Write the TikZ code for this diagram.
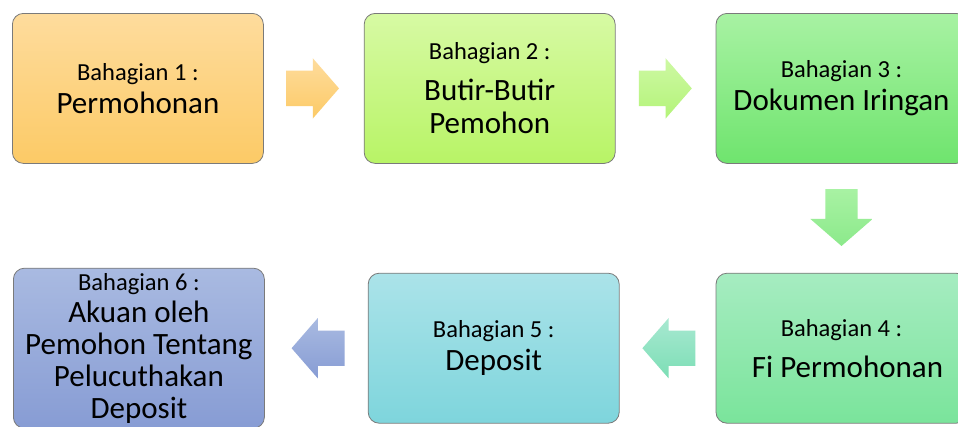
\documentclass[tikz,border=0pt]{standalone}
\usepackage{fontspec}
\setmainfont{Carlito}
\usetikzlibrary{positioning,shapes.arrows,calc}
\definecolor{boxEdge}{HTML}{7A7A7A}
\definecolor{orangeTop}{HTML}{FEDC9D}
\definecolor{orangeBot}{HTML}{FCCA66}
\definecolor{limeTop}{HTML}{D7FAA4}
\definecolor{limeBot}{HTML}{B8F466}
\definecolor{greenTop}{HTML}{A8F2A3}
\definecolor{greenBot}{HTML}{6FE46E}
\definecolor{mintTop}{HTML}{A6ECC1}
\definecolor{mintBot}{HTML}{7AE49B}
\definecolor{tealTop}{HTML}{ABE3E9}
\definecolor{tealBot}{HTML}{7ED5DC}
\definecolor{blueTop}{HTML}{A9BAE1}
\definecolor{blueBot}{HTML}{879CD4}
\newcommand{\parthead}[1]{{\fontsize{24.5}{28}\selectfont #1}}

\begin{document}
\begin{tikzpicture}[x=1pt,y=1pt,
  node distance=100pt,
  partbox/.style={draw=boxEdge,line width=0.8pt,rounded corners=11pt,minimum width=251pt,minimum height=150pt,
    inner sep=0pt,align=center,font=\fontsize{31}{33}\selectfont},
  blockarrow/.style={single arrow,inner xsep=0pt,inner ysep=17.5pt,minimum height=53pt,
    single arrow head extend=12.5pt,single arrow tip angle=98,draw=none,anchor=tail}]
  \fill[white] (0,0) rectangle (958,-426);
  \useasboundingbox (0,0) rectangle (958,-426);

  % top row
  \node[partbox,anchor=north west,top color=orangeTop,bottom color=orangeBot] (part1) at (12,-13)
    {\parthead{Bahagian 1 :}\\Permohonan};
  \node[partbox,right=of part1,top color=limeTop,bottom color=limeBot] (part2)
    {\parthead{Bahagian 2 :}\\[8pt]Butir-Butir\\Pemohon};
  \node[partbox,right=of part2,top color=greenTop,bottom color=greenBot] (part3)
    {\parthead{Bahagian 3 :}\\Dokumen Iringan};

  % bottom row
  \node[partbox,below=109pt of part3,top color=mintTop,bottom color=mintBot] (part4)
    {\parthead{Bahagian 4 :}\\[8pt]\hspace*{12pt}Fi Permohonan};
  \node[partbox,left=96pt of part4,top color=tealTop,bottom color=tealBot] (part5)
    {\parthead{Bahagian 5 :}\\Deposit};
  \node[partbox,left=103pt of part5,minimum height=160pt,top color=blueTop,bottom color=blueBot,
    font=\fontsize{31}{32}\selectfont] (part6)
    {\parthead{Bahagian 6 :}\\Akuan oleh\\Pemohon Tentang\\Pelucuthakan\\Deposit};

  % block arrows between the parts
  \node[blockarrow,top color=orangeTop,bottom color=orangeBot] (go12) at ([xshift=22pt]part1.east) {};
  \node[blockarrow,top color=limeTop!80!greenTop,bottom color=limeBot!70!greenTop] (go23) at ([xshift=23pt]part2.east) {};
  \node[blockarrow,shape border rotate=270,inner xsep=16pt,inner ysep=0pt,minimum height=57pt,single arrow head extend=15pt,
    top color=greenTop,bottom color=greenBot!80!white] (go34) at ([yshift=-25pt]part3.south) {};
  \node[blockarrow,shape border rotate=180,top color=mintTop!60!tealTop,bottom color=mintBot!60!tealBot] (go45) at ([xshift=-20pt]part4.west) {};
  \node[blockarrow,shape border rotate=180,top color=blueTop,bottom color=blueBot] (go56) at ([xshift=-23pt]part5.west) {};
\end{tikzpicture}
\end{document}
